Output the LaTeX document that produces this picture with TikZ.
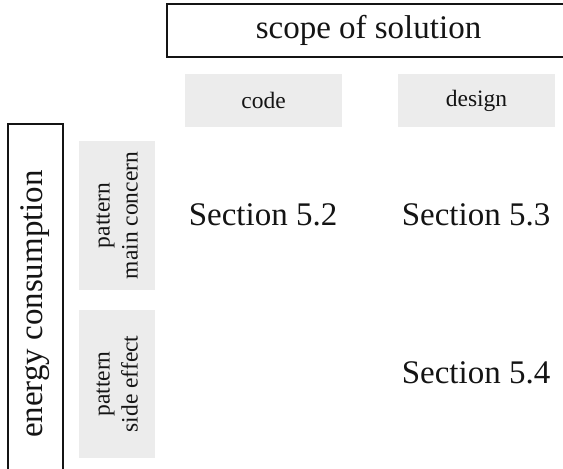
\documentclass[tikz,border=0pt]{standalone}
\usepackage{fontspec}
\setmainfont{Liberation Serif}
\definecolor{ink}{HTML}{141414}
\definecolor{cellgray}{HTML}{ECECEC}
\tikzset{
  frame/.style={draw=ink, line width=1.3pt, fill=white, inner sep=0pt, text=ink},
  cell/.style={fill=cellgray, draw=none, inner sep=0pt, text=ink},
  bigtext/.style={font=\fontsize{33}{38}\selectfont},
  axistext/.style={font=\fontsize{33}{38}\selectfont},
  midtext/.style={font=\fontsize{23.5}{28}\selectfont, align=center},
  entry/.style={bigtext, text=ink, inner sep=0pt, anchor=base},
}
\begin{document}
\begin{tikzpicture}[x=1pt, y=-1pt]
  \useasboundingbox (0,0) rectangle (563,469);
  \clip (0,0) rectangle (563,469);

  % column header
  \node[frame, bigtext, minimum width=403, minimum height=53] (scope) at (368.5,30.5) {scope of solution};
  \node[cell, midtext, minimum width=157, minimum height=53] (code) at (263.5,100.5) {code};
  \node[cell, midtext, minimum width=157, minimum height=53] (design) at (476.5,100.5) {design};

  % row header
  \node[frame, axistext, rotate=90, minimum width=360, minimum height=55] (energy) at (35.5,304) {energy consumption};
  \node[cell, midtext, rotate=90, minimum width=149, minimum height=76] (main) at (117,215.5) {pattern\\main concern};
  \node[cell, midtext, rotate=90, minimum width=148, minimum height=76] (side) at (117,384) {pattern\\side effect};

  % cells of the matrix
  \node[entry] (s52) at (263,225) {Section 5.2};
  \node[entry] (s53) at (476,225) {Section 5.3};
  \node[entry] (s54) at (476,383) {Section 5.4};
\end{tikzpicture}
\end{document}
